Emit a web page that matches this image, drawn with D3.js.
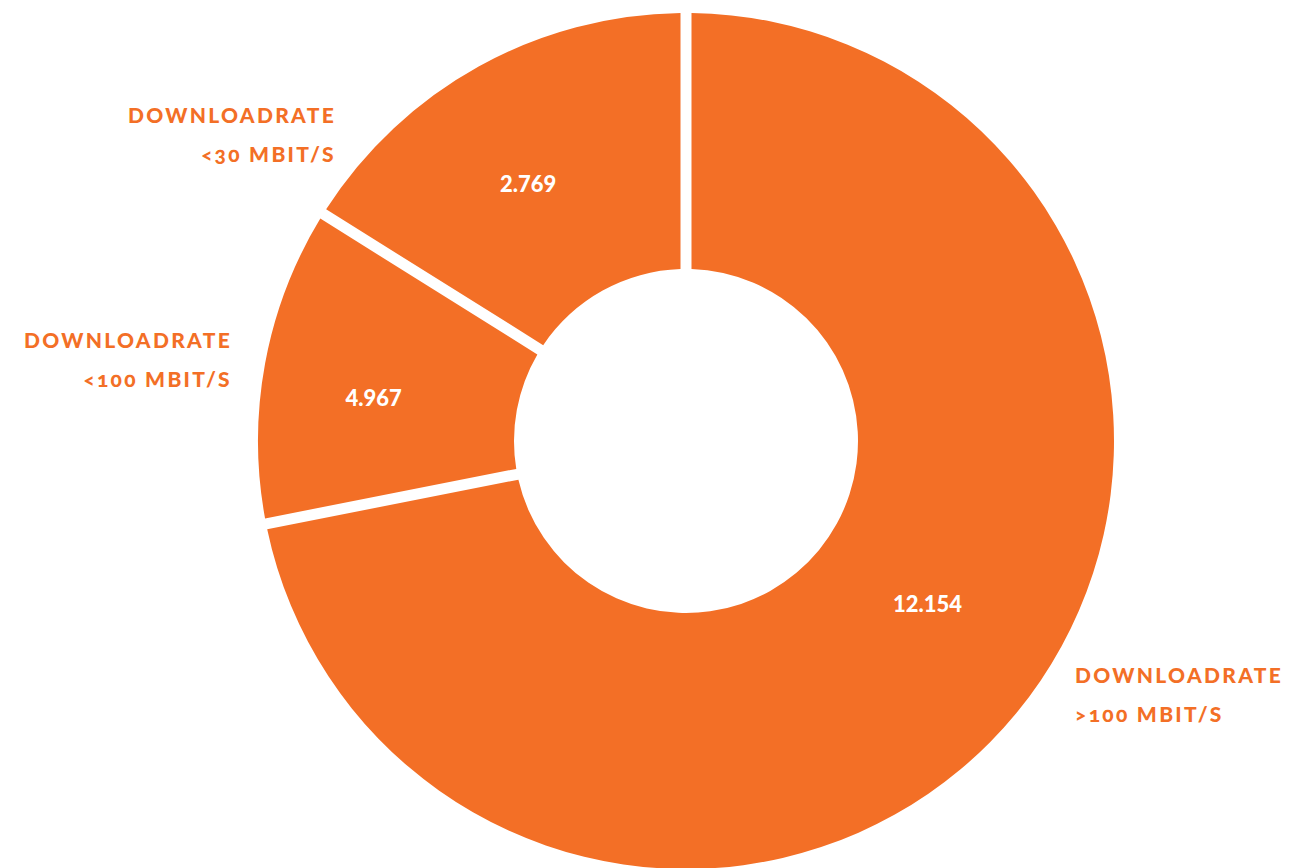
<!DOCTYPE html>
<html>
<head>
<meta charset="utf-8">
<script src="https://cdn.jsdelivr.net/npm/d3@7"></script>
<style>
  html, body { margin: 0; padding: 0; background: #fff; }
  svg { display: block; }
  .cat { font-family: Lato, "Open Sans", sans-serif; font-weight: 900; font-size: 21px; letter-spacing: 2.3px; fill: #f36f26; font-variant-numeric: oldstyle-nums; }
  .val { font-family: Lato, "Open Sans", sans-serif; font-weight: 900; font-size: 22px; fill: #fff; }
</style>
</head>
<body>
<script>
window.document.addEventListener('DOMContentLoaded', init, false);

// categories in drawing order (clockwise from 12 o'clock)
var categories = ['>100 MBIT/S', '<100 MBIT/S', '<30 MBIT/S'];
// printed values
var values = ['12.154', '4.967', '2.769'];
// share of the ring each slice takes in the picture (percent)
var shares = [71.9, 12.0, 16.1];

var width = 1316;
var height = 868;
var cx = 686, cy = 441;
var outerR = 428, innerR = 172;
var orange = '#f36f26';

// where each category caption sits
var captions = [
    {x: 1075, y: 683, anchor: 'start'},
    {x: 232, y: 348, anchor: 'end'},
    {x: 336, y: 123, anchor: 'end'}
];
// small nudges of the value labels off the ring's centre line
var nudges = [[0, -16], [-15, -5], [1, -3]];

var svg;

function init() {
    svg = createCanvas();
    drawRing();
    drawCaptions();
}

function createCanvas() {
    return d3.select('body')
        .append('svg')
        .attr('width', width)
        .attr('height', height);
}

function drawRing() {
    var pie = d3.pie().sort(null).value(function(d) { return d.share; });
    var rows = categories.map(function(c, i) { return {cat: c, value: values[i], share: shares[i]}; });
    var arcs = pie(rows);

    var arc = d3.arc()
        .innerRadius(innerR)
        .outerRadius(outerR)
        .padAngle(0.11)
        .padRadius(100);

    var g = svg.append('g').attr('transform', 'translate(' + cx + ',' + cy + ')');

    g.selectAll('path')
        .data(arcs)
        .enter()
        .append('path')
        .attr('d', arc)
        .attr('fill', orange);

    // value labels sit a little before the slice's middle angle
    var labelR = 300;
    var shift = 3 * Math.PI / 180;
    g.selectAll('text.val')
        .data(arcs)
        .enter()
        .append('text')
        .attr('class', 'val')
        .attr('text-anchor', 'middle')
        .attr('dominant-baseline', 'central')
        .attr('x', function(d, i) { return labelR * Math.sin((d.startAngle + d.endAngle) / 2 - shift) + nudges[i][0]; })
        .attr('y', function(d, i) { return -labelR * Math.cos((d.startAngle + d.endAngle) / 2 - shift) + nudges[i][1]; })
        .text(function(d) { return d.data.value; });
}

function drawCaptions() {
    categories.forEach(function(c, i) {
        var pos = captions[i];
        var t = svg.append('text')
            .attr('class', 'cat')
            .attr('text-anchor', pos.anchor);
        t.append('tspan').attr('x', pos.x).attr('y', pos.y).text('DOWNLOADRATE');
        t.append('tspan').attr('x', pos.x).attr('y', pos.y + 39).text(c);
    });
}
</script>
</body>
</html>
